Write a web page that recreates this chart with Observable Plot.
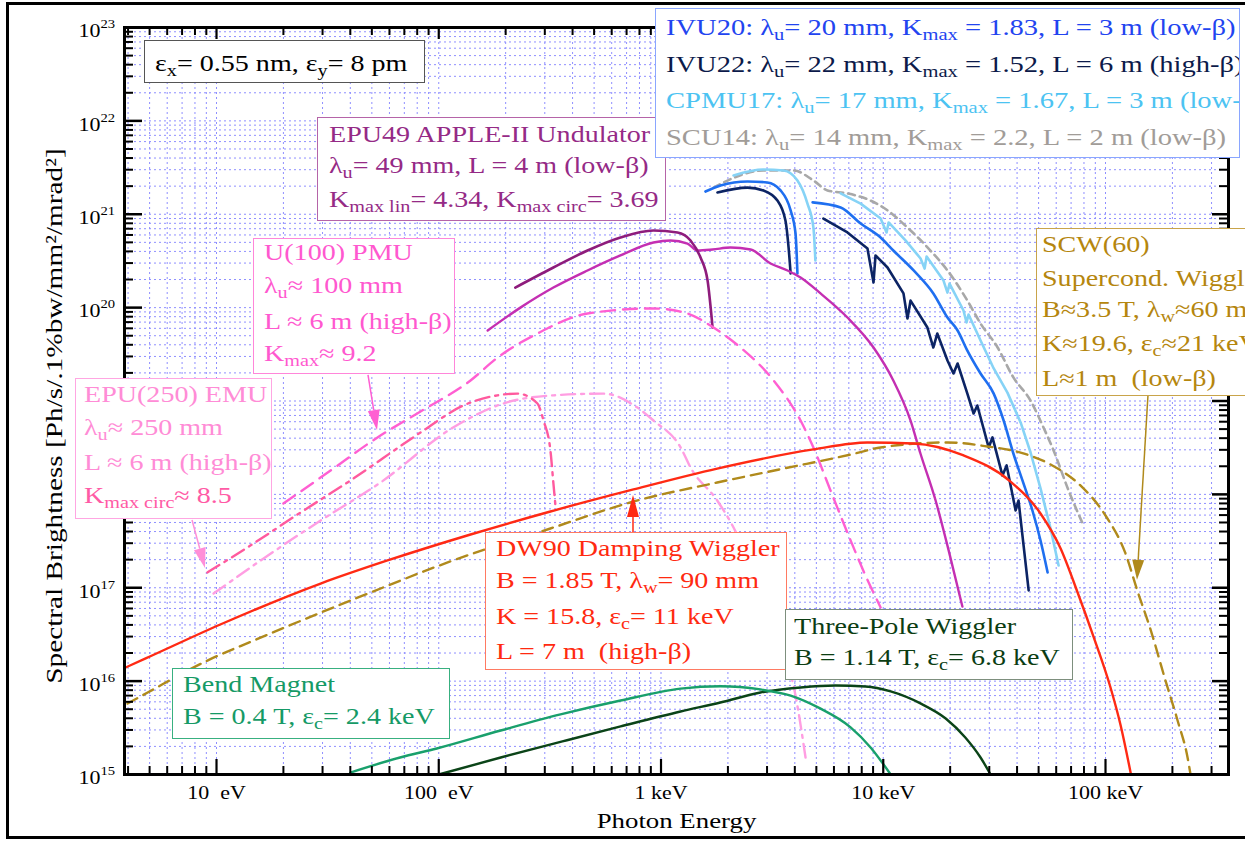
<!DOCTYPE html>
<html><head><meta charset="utf-8">
<script src="https://cdn.jsdelivr.net/npm/d3@7"></script>
<script src="https://cdn.jsdelivr.net/npm/@observablehq/plot@0.6"></script>
<style>
body{margin:0;background:#fff;}
#fig{position:relative;width:1245px;height:841px;overflow:hidden;font-family:"Liberation Serif","Times New Roman",serif;}
#fig svg{position:absolute;left:0;top:0;}
.box{position:absolute;background:#fff;border:1.5px solid;box-sizing:border-box;overflow:hidden;}
.ln{position:absolute;white-space:nowrap;font-size:23px;line-height:23px;transform-origin:0 0;}
.ln sub{font-size:0.72em;vertical-align:-0.32em;line-height:0;}
#border{position:absolute;left:6px;top:2px;width:1245px;height:837px;border:3px solid #000;border-right:none;box-sizing:border-box;pointer-events:none;}
</style></head>
<body><div id="fig"><div id="border"></div></div>
<script>
// ---------------- data (photon energy in eV, brightness in Ph/s/.1%bw/mm^2/mrad^2) -------------
const xMajor = [10, 100, 1000, 10000, 100000];
const xTickLabels = ["10\u00a0\u00a0eV", "100\u00a0\u00a0eV", "1 keV", "10 keV", "100 keV"];
const yMajor = [1e15, 1e16, 1e17, 1e18, 1e19, 1e20, 1e21, 1e22, 1e23];
// labelled decades (10^18 and 10^19 are hidden behind the EPU(250) box in the original)
const yLabelled = [1e15, 1e16, 1e17, 1e20, 1e21, 1e22, 1e23];
const yExponents = ["15", "16", "17", "20", "21", "22", "23"];

const bmE = [40, 67, 98, 190, 353, 658, 1225, 1850, 2800, 3830, 5200, 7130, 8770, 10800];
const bmB = [1.05e15, 1.52e15, 1.9e15, 2.96e15, 4.4e15, 6.2e15, 8.3e15, 8.8e15, 8.15e15, 7.0e15, 5.1e15, 3.2e15, 1.95e15, 1.0e15];

const tpwE = [100, 190, 360, 658, 1225, 1850, 2800, 4250, 6100, 8320, 10800, 14700, 19100, 23400, 27400, 30400];
const tpwB = [1.0e15, 1.52e15, 2.26e15, 3.27e15, 4.73e15, 5.9e15, 7.55e15, 8.55e15, 8.98e15, 8.77e15, 7.75e15, 5.77e15, 3.98e15, 2.49e15, 1.52e15, 1.0e15];

const dw90E = [3.9, 4.8, 10.4, 29.4, 58.8, 139, 318, 752, 1790, 4850, 8490, 13700, 23000, 37400, 51000, 62800, 74900, 88300, 105000, 117000, 130000];
const dw90B = [1.40e16, 1.75e16, 4.04e16, 1.11e17, 1.96e17, 3.72e17, 6.56e17, 1.13e18, 1.89e18, 3.03e18, 3.6e18, 3.51e18, 2.61e18, 1.37e18, 6.24e17, 2.63e17, 8.89e16, 3.0e16, 8.75e15, 3.35e15, 1.02e15];

const scwE = [3.98, 4.9, 9.1, 14.7, 20.8, 49.3, 116, 318, 752, 1790, 3560, 7130, 9730, 19500, 29400, 41500, 56600, 77300, 100000, 123000, 139000, 160000, 186000, 211000, 234000, 241000];
const scwB = [5.75e15, 7.55e15, 1.66e16, 2.72e16, 3.85e16, 8.89e16, 1.96e17, 4.31e17, 8.39e17, 1.34e18, 1.89e18, 2.67e18, 3.18e18, 3.6e18, 3.26e18, 2.8e18, 2.09e18, 1.24e18, 5.94e17, 2.33e17, 9.35e16, 3.48e16, 1.02e16, 3.79e15, 1.52e15, 1.02e15];

const epu49CircE = [221, 328, 467, 657, 925, 1186, 1358, 1506, 1620, 1706];
const epu49CircB = [1.64e20, 2.69e20, 4.09e20, 5.64e20, 6.7e20, 6.38e20, 5.24e20, 3.44e20, 1.95e20, 6.12e19];

const epu49LinE = [166, 233, 328, 467, 657, 925, 1104, 1315, 1458, 1706, 2055, 2530, 3110, 3710, 4245, 5220, 6900, 9040, 11100, 13270, 14700, 17200, 19700, 22700];
const epu49LinB = [5.69e19, 1.0e20, 1.64e20, 2.5e20, 3.62e20, 4.98e20, 5.24e20, 4.86e20, 4.09e20, 4.19e20, 4.4e20, 4.19e20, 2.97e20, 2.5e20, 2.1e20, 1.42e20, 7.84e19, 3.74e19, 1.66e19, 6.18e18, 2.74e18, 8.6e17, 2.5e17, 6.3e16];

const pmuE = [20.0, 32.6, 53, 82.8, 139, 184, 278, 467, 925, 1315, 1722, 2278, 3210, 4245, 4850, 5790, 7130, 8320, 9730];
const pmuB = [7.98e17, 1.8e18, 4.07e18, 7.72e18, 1.66e19, 2.92e19, 5.28e19, 8.65e19, 9.8e19, 8.65e19, 6.12e19, 3.74e19, 1.66e19, 6.18e18, 3.18e18, 1.1e18, 3.21e17, 1.35e17, 6.15e16];

const emuCircE = [9.1, 14.2, 23.9, 40.1, 82.8, 129, 184, 226, 278, 296, 318, 328, 335];
const emuCircB = [1.46e17, 2.83e17, 6.4e17, 1.41e18, 4.6e18, 8.95e18, 1.15e19, 1.2e19, 9.4e18, 6.18e18, 2.95e18, 1.31e18, 7.6e17];

const emuLinE = [9.7, 15.8, 29.4, 54.7, 116, 195, 328, 551, 783, 925, 1225, 1358, 1790, 2120, 2805, 3450, 4030, 4470];
const emuLinB = [8.67e16, 1.96e17, 5.25e17, 1.34e18, 5.2e18, 9.4e18, 1.15e19, 1.2e19, 8.5e18, 6.18e18, 3.18e18, 1.94e18, 8.6e17, 4.42e17, 9.35e16, 2.72e16, 7.0e15, 1.52e15];

const ivu20E1 = [1585, 1853, 2450, 3010, 3450, 3830, 4030, 4110];
const ivu20B1 = [1.75e21, 2.03e21, 2.24e21, 2.19e21, 1.8e21, 1.1e21, 6.22e20, 2.32e20];
const ivu20E2 = [4810, 6430, 7910, 9730, 11100, 13700, 16800, 19450, 21600, 23900, 27400, 31400, 34800, 38500, 42300, 46900, 51000, 54900];
const ivu20B2 = [1.34e21, 1.18e21, 7.96e20, 5.64e20, 4.09e20, 2.5e20, 1.42e20, 7.84e19, 5.69e19, 3.47e19, 1.97e19, 1.2e19, 6.18e18, 2.74e18, 1.41e18, 6.72e17, 3.21e17, 1.46e17];

const ivu22E1 = [1795, 2450, 2890, 3340, 3630, 3750, 3830];
const ivu22B1 = [1.71e21, 1.93e21, 1.8e21, 1.4e21, 8.57e20, 4.4e20, 2.32e20];
const ivu22E2 = [5380, 6900, 8490, 9040, 9230, 10450, 12330, 12850, 13270, 15800, 16800, 17500, 19450, 20700, 21600, 23900, 25500, 26500, 29800, 31000, 34400, 35900, 39400, 40600, 45100];
const ivu22B2 = [9.0e20, 6.38e20, 4.3e20, 1.86e20, 3.62e20, 2.69e20, 1.42e20, 7.66e19, 1.19e20, 6.12e19, 3.74e19, 5.28e19, 2.72e19, 1.97e19, 2.52e19, 1.2e19, 7.35e18, 8.95e18, 3.18e18, 4.07e18, 1.59e18, 2.04e18, 6.72e17, 8.6e17, 9.35e16];

const cpmuE1 = [2120, 2890, 3560, 4110, 4560, 4850, 4950];
const cpmuB1 = [2.6e21, 3.01e21, 2.94e21, 2.3e21, 1.3e21, 7.2e20, 3.2e20];
const cpmuE2 = [6430, 7910, 9730, 10350, 10570, 12590, 14720, 15350, 15670, 18670, 19450, 19870, 22960, 23700, 24200, 27400, 31400, 36200, 41500, 46000, 51000, 56600, 61500];
const cpmuB2 = [1.67e21, 1.3e21, 9.0e20, 6.38e20, 8.17e20, 5.24e20, 3.36e20, 2.62e20, 3.53e20, 1.95e20, 1.45e20, 1.81e20, 9.31e19, 6.93e19, 8.44e19, 4.45e19, 2.23e19, 1.23e19, 5.89e18, 2.81e18, 1.16e18, 4.31e17, 1.73e17];

const scu14E = [1722, 2890, 3945, 4850, 5610, 6900, 8770, 10450, 12850, 16300, 19450, 23900, 27400, 32700, 38500, 46000, 52600, 58400, 68200, 79600];
const scu14B = [1.93e21, 2.94e21, 2.94e21, 2.3e21, 1.8e21, 1.67e21, 1.4e21, 1.1e21, 7.2e20, 4.09e20, 2.5e20, 1.19e20, 6.76e19, 3.74e19, 1.79e19, 1.01e19, 5.2e18, 2.95e18, 1.1e18, 4.65e17];

// arrows: [from energy, from brightness, to energy, to brightness]
const arrowU100 = [48.3, 1.88e19, 53, 4.83e18];
const arrowEMU = [7.8, 5.25e17, 8.92, 1.61e17];
const arrowDW90 = [752, 3.91e17, 752, 9.72e17];
const arrowSCW = [156000, 1.12e19, 139300, 1.2e17];

// ---------------- series and styles ----------------
const series = [
  {name: "SCU14", E: scu14E, B: scu14B},
  {name: "CPMU17 a", E: cpmuE1, B: cpmuB1},
  {name: "CPMU17 b", E: cpmuE2, B: cpmuB2},
  {name: "IVU20 a", E: ivu20E1, B: ivu20B1},
  {name: "IVU20 b", E: ivu20E2, B: ivu20B2},
  {name: "IVU22 a", E: ivu22E1, B: ivu22B1},
  {name: "IVU22 b", E: ivu22E2, B: ivu22B2},
  {name: "EPU49 lin", E: epu49LinE, B: epu49LinB},
  {name: "EPU49 circ", E: epu49CircE, B: epu49CircB},
  {name: "U100 PMU", E: pmuE, B: pmuB},
  {name: "EMU250 lin", E: emuLinE, B: emuLinB},
  {name: "EMU250 circ", E: emuCircE, B: emuCircB},
  {name: "SCW60", E: scwE, B: scwB},
  {name: "DW90", E: dw90E, B: dw90B},
  {name: "Three-pole", E: tpwE, B: tpwB},
  {name: "Bend magnet", E: bmE, B: bmB}
];
const styles = {
  "SCU14": {stroke: "#a8a8a8", w: 2.6, dash: "7,5"},
  "CPMU17 a": {stroke: "#86d3f6", w: 2.6},
  "CPMU17 b": {stroke: "#86d3f6", w: 2.6, curve: "linear"},
  "IVU20 a": {stroke: "#1f6ff0", w: 2.6},
  "IVU20 b": {stroke: "#1f6ff0", w: 2.6},
  "IVU22 a": {stroke: "#0c2464", w: 2.6},
  "IVU22 b": {stroke: "#0c2464", w: 2.6, curve: "linear"},
  "EPU49 lin": {stroke: "#c42fb2", w: 2.4},
  "EPU49 circ": {stroke: "#8e1c7c", w: 2.6},
  "U100 PMU": {stroke: "#ff5fd2", w: 2.4, dash: "14,8"},
  "EMU250 lin": {stroke: "#ff9ee2", w: 2.4, dash: "14,6,3,6"},
  "EMU250 circ": {stroke: "#ff5a9e", w: 2.4, dash: "14,6,3,6"},
  "SCW60": {stroke: "#b08a1c", w: 2.4, dash: "11,7"},
  "DW90": {stroke: "#ff2a14", w: 2.4},
  "Three-pole": {stroke: "#0b4418", w: 2.4},
  "Bend magnet": {stroke: "#19a06c", w: 2.4}
};
const rows = series.flatMap(s => s.E.map((e, i) => ({name: s.name, E: e, B: s.B[i]})));

// grid values (1..9 x every decade)
const xGrid = [], yGrid = [];
for (let p = 0; p <= 5; p++) for (let m = 1; m <= 9; m++) { const v = m * 10 ** p; if (v >= 4 && v <= 350000) xGrid.push(v); }
for (let p = 15; p <= 22; p++) for (let m = 1; m <= 9; m++) yGrid.push(m * 10 ** p);
yGrid.push(1e23);
const xMinor = xGrid.filter(v => !xMajor.includes(v));
const yMinor = yGrid.filter(v => !yMajor.includes(v));

// ---------------- plot ----------------
const W = 1245, H = 841, mL = 124, mR = 17, mT = 27, mB = 67;
const fw = W - mL - mR, fh = H - mT - mB;
const ink = "#000";

const lineMarks = series.map(s => {
  const st = styles[s.name];
  return Plot.line(rows.filter(r => r.name === s.name), {
    x: "E", y: "B", stroke: st.stroke, strokeWidth: st.w,
    strokeDasharray: st.dash, curve: st.curve || "monotone-x", strokeLinejoin: "round"
  });
});

const plot = Plot.plot({
  width: W, height: H,
  marginLeft: mL, marginRight: mR, marginTop: mT, marginBottom: mB,
  style: {fontFamily: "'Liberation Serif', 'Times New Roman', serif", background: "transparent", color: "#000"},
  x: {type: "log", domain: [3.855, 357600], axis: null},
  y: {type: "log", domain: [1e15, 1e23], axis: null},
  marks: [
    Plot.ruleX(xGrid, {x: d => d, stroke: "#8f8fff", strokeWidth: 1, strokeDasharray: "2,3"}),
    Plot.ruleY(yGrid, {y: d => d, stroke: "#8f8fff", strokeWidth: 1, strokeDasharray: "2,3"}),
    ...lineMarks,
    // ticks (inward)
    Plot.ruleX(xMajor, {x: d => d, insetTop: fh - 15, stroke: ink, strokeWidth: 2.2}),
    Plot.ruleX(xMinor, {x: d => d, insetTop: fh - 8, stroke: ink, strokeWidth: 2}),
    Plot.ruleX(xMajor, {x: d => d, insetBottom: fh - 12, stroke: ink, strokeWidth: 2.2}),
    Plot.ruleX(xMinor, {x: d => d, insetBottom: fh - 8, stroke: ink, strokeWidth: 2}),
    Plot.ruleY(yMajor, {y: d => d, insetRight: fw - 18, stroke: ink, strokeWidth: 2.5}),
    Plot.ruleY(yMinor, {y: d => d, insetRight: fw - 9, stroke: ink, strokeWidth: 2}),
    Plot.ruleY(yMajor, {y: d => d, insetLeft: fw - 16, stroke: ink, strokeWidth: 2.5}),
    Plot.ruleY(yMinor, {y: d => d, insetLeft: fw - 9, stroke: ink, strokeWidth: 2}),
    Plot.frame({stroke: ink, strokeWidth: 3}),
    // tick labels
    Plot.text(xMajor, {x: d => d, text: (d, i) => xTickLabels[i], frameAnchor: "bottom", dy: 24, fontSize: 18, fill: ink}),
    Plot.text(yLabelled, {y: d => d, text: () => "10", frameAnchor: "left", dx: -24, dy: 4, textAnchor: "end", fontSize: 18, fill: ink}),
    Plot.text(yLabelled, {y: d => d, text: (d, i) => yExponents[i], frameAnchor: "left", dx: -24, dy: -3, textAnchor: "start", fontSize: 12, fill: ink}),
    // axis titles
    Plot.text(["Photon Energy"], {text: d => d, frameAnchor: "bottom", dy: 53, fontSize: 22, fill: ink}),
    Plot.text(["Spectral Brightness [Ph/s/.1%bw/mm\u00b2/mrad\u00b2]"], {text: d => d, frameAnchor: "left", textAnchor: "middle", lineAnchor: "middle", dx: -70, dy: 15, rotate: -90, fontSize: 24, fill: ink})
  ]
});

// widen serif text like the original
d3.select(plot).selectAll("text").each(function () {
  const t = this.getAttribute("transform");
  this.setAttribute("transform", (t ? t + " " : "") + "scale(1.22,1)");
});

// arrows drawn through the plot's scales
const sx = plot.scale("x"), sy = plot.scale("y");
const ag = d3.select(plot).append("g");
function arrow(a, color, headLen, headW) {
  const x1 = sx.apply(a[0]), y1 = sy.apply(a[1]), x2 = sx.apply(a[2]), y2 = sy.apply(a[3]);
  const ang = Math.atan2(y2 - y1, x2 - x1);
  const bx = x2 - headLen * Math.cos(ang), by = y2 - headLen * Math.sin(ang);
  ag.append("line").attr("x1", x1).attr("y1", y1).attr("x2", bx).attr("y2", by)
    .attr("stroke", color).attr("stroke-width", 1.5);
  const px = -Math.sin(ang) * headW, py = Math.cos(ang) * headW;
  ag.append("polygon").attr("points", `${x2},${y2} ${bx + px},${by + py} ${bx - px},${by - py}`).attr("fill", color);
}
arrow(arrowU100, "#ff5fd2", 20, 6);
arrow(arrowEMU, "#ff8ed8", 20, 6);
arrow(arrowDW90, "#ff2a14", 22, 6);
arrow(arrowSCW, "#b08a1c", 20, 6);

const fig = document.getElementById("fig");
fig.insertBefore(plot, fig.firstChild);

// ---------------- annotation boxes ----------------
const boxes = [
  {l: 144, t: 40, w: 281, h: 43, border: "#555", color: "#000", tx: 10, lines: [[72, "ε<sub>x</sub>= 0.55 nm, ε<sub>y</sub>= 8 pm"]]},
  {l: 317, t: 117, w: 349, h: 104, border: "#b564a8", color: "#952a86", tx: 11, lines: [
    [143, "EPU49 APPLE-II Undulator"], [174, "λ<sub>u</sub>= 49 mm, L = 4 m (low-β)"], [208, "K<sub>max lin</sub>= 4.34, K<sub>max circ</sub>= 3.69"]]},
  {l: 253, t: 238, w: 202, h: 136, border: "#ff86da", color: "#ff58cf", tx: 10, lines: [
    [261, "U(100) PMU"], [294, "λ<sub>u</sub>≈ 100 mm"], [330, "L ≈ 6 m (high-β)"], [362, "K<sub>max</sub>≈ 9.2"]]},
  {l: 75, t: 378, w: 197, h: 141, border: "#ffa6e2", color: "#ff8cd6", tx: 8, lines: [
    [403, "EPU(250) EMU"], [436, "λ<sub>u</sub>≈ 250 mm"], [471, "L ≈ 6 m (high-β)"], [504, "<span style='color:#ff5aa5'>K<sub>max circ</sub>≈ 8.5</span>"]]},
  {l: 655, t: 8, w: 585, h: 150, border: "#8aa6ff", color: "#000", tx: 10, sc: 1.24, lines: [
    [36, "<span style='color:#2244f0'>IVU20: λ<sub>u</sub>= 20 mm, K<sub>max</sub> = 1.83, L = 3 m (low-β)</span>"],
    [73, "<span style='color:#0c1a4a'>IVU22: λ<sub>u</sub>= 22 mm, K<sub>max</sub> = 1.52, L = 6 m (high-β)</span>"],
    [109, "<span style='color:#4cc3f2'>CPMU17: λ<sub>u</sub>= 17 mm, K<sub>max</sub> = 1.67, L = 3 m (low-β)</span>"],
    [146, "<span style='color:#a19c98'>SCU14: λ<sub>u</sub>= 14 mm, K<sub>max</sub> = 2.2, L = 2 m (low-β)</span>"]]},
  {l: 1036, t: 228, w: 230, h: 168, border: "#c9a44a", color: "#b5860e", tx: 5, lines: [
    [253, "SCW(60)"], [287, "Supercond. Wiggler"], [318, "B≈3.5 T, λ<sub>w</sub>≈60 mm"], [352, "K≈19.6, ε<sub>c</sub>≈21 keV"], [387, "L≈1 m&nbsp; (low-β)"]]},
  {l: 485, t: 532, w: 302, h: 138, border: "#ff7a62", color: "#ff2a10", tx: 10, lines: [
    [557, "DW90 Damping Wiggler"], [589, "B = 1.85 T, λ<sub>w</sub>= 90 mm"], [625, "K = 15.8, ε<sub>c</sub>= 11 keV"], [660, "L = 7 m&nbsp; (high-β)"]]},
  {l: 785, t: 609, w: 288, h: 71, border: "#7d8f7d", color: "#0b3d12", tx: 8, lines: [
    [635, "Three-Pole Wiggler"], [666, "B = 1.14 T, ε<sub>c</sub>= 6.8 keV"]]},
  {l: 172, t: 668, w: 278, h: 71, border: "#38b080", color: "#159a66", tx: 10, lines: [
    [693, "Bend Magnet"], [725, "B = 0.4 T, ε<sub>c</sub>= 2.4 keV"]]}
];
const fs = 23, asc = 0.8375 * fs;
for (const b of boxes) {
  const d = document.createElement("div");
  d.className = "box";
  Object.assign(d.style, {left: b.l + "px", top: b.t + "px", width: b.w + "px", height: b.h + "px", borderColor: b.border, color: b.color});
  for (const [base, html] of b.lines) {
    const s = document.createElement("div");
    s.className = "ln";
    s.style.left = b.tx + "px";
    s.style.top = (base - b.t - asc - 1.5) + "px";
    s.style.transform = `scaleX(${b.sc || 1.22})`;
    s.innerHTML = html;
    d.appendChild(s);
  }
  fig.appendChild(d);
}
</script>
</body></html>
